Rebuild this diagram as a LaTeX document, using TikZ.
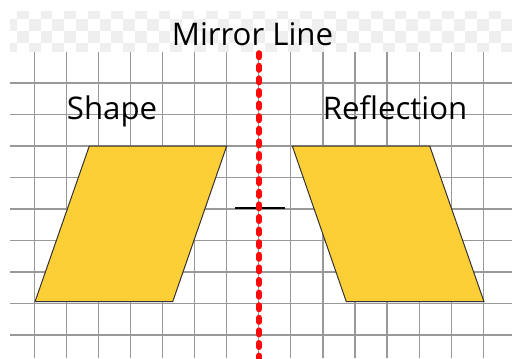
\documentclass[tikz,border=0pt]{standalone}
\usepackage{fontspec}
\setmainfont{Open Sans}
\usepackage{tikz}
\definecolor{shapeFill}{HTML}{FDCF36}
\definecolor{mirRed}{HTML}{FF0A0A}
\definecolor{chkGray}{HTML}{EFEFEF}

\begin{document}
\begin{tikzpicture}[x=0.5pt,y=-0.5pt,
  gridln/.style={draw=gray!80,line width=0.6pt},
  para/.style={fill=shapeFill,draw=black!80,line width=0.5pt},
  mirror/.style={draw=mirRed,line width=2.8pt,dash pattern=on 2.2pt off 4.1pt,line cap=round},
  tick/.style={draw=black,line width=0.9pt},
  lbl/.style={font=\fontsize{15.6}{18}\selectfont,inner sep=0pt,anchor=base}]
  \useasboundingbox (0,0) rectangle (512,358);
  % checker strip
  \begin{scope}
    \clip (10,12) rectangle (512,52);
    \foreach \r in {0,...,3}{
      \foreach \c in {0,...,42}{
        \pgfmathtruncatemacro\odd{mod(\r+\c,2)}
        \ifnum\odd=1 \fill[chkGray] ({5.2+11.8*\c},{7.5+11.8*\r}) rectangle ++(11.8,11.8);\fi
      }
    }
  \end{scope}
  % grid
  \foreach \i in {0,...,14} \draw[gridln] ({34.3+32.07*\i},51.7) -- ({34.3+32.07*\i},358);
  \foreach \j in {0,...,8} \draw[gridln] (10,{83+31.5*\j}) -- (512,{83+31.5*\j});
  % shape and reflection
  \draw[para] (89.3,146) -- (226.7,146) -- (172.7,301.7) -- (35,301.7) -- cycle;
  \draw[para] (292.3,146) -- (429.7,146) -- (484,301.7) -- (346.3,301.7) -- cycle;
  % mirror line
  \coordinate (tickL) at (235,208); \coordinate (tickR) at (285,208);
  \draw[tick] (tickL) -- (tickR);
  \coordinate (mirTop) at (259,53); \coordinate (mirBot) at (259,362);
  \draw[mirror] (mirTop) -- (mirBot);
  % labels
  \node[lbl] (title) at (252.5,45.5) {Mirror Line};
  \node[lbl] (shapeLbl) at (112,119.5) {Shape};
  \node[lbl] (reflLbl) at (395,119.5) {Reflection};
\end{tikzpicture}
\end{document}
